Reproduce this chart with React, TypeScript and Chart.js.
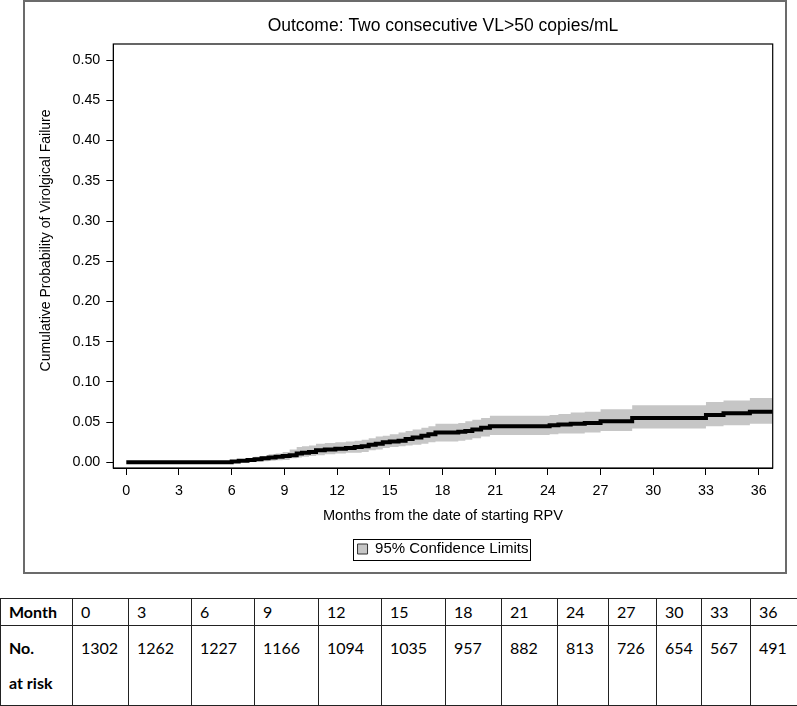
import React, { useEffect, useRef } from 'react';
import { Chart, registerables } from 'chart.js';

Chart.register(...registerables);

// ---- Data ----
const monthTimes = [0, 6.0, 6.4, 6.9, 7.3, 7.7, 8.1, 8.5, 8.9, 9.3, 9.7, 10.0, 10.4, 10.8, 11.3, 11.9, 12.5, 13.0, 13.4, 13.8, 14.2, 14.6, 15.0, 15.5, 15.9, 16.3, 16.8, 17.2, 17.6, 18.9, 19.3, 19.7, 20.2, 20.7, 24.1, 24.6, 25.3, 26.1, 27.0, 28.8, 33.0, 34.0, 35.5, 36.8];
const failureProb = [0, 0.001, 0.002, 0.003, 0.004, 0.005, 0.006, 0.007, 0.008, 0.009, 0.011, 0.012, 0.013, 0.015, 0.016, 0.017, 0.018, 0.019, 0.020, 0.022, 0.023, 0.025, 0.026, 0.027, 0.029, 0.031, 0.033, 0.035, 0.037, 0.038, 0.039, 0.041, 0.043, 0.045, 0.046, 0.047, 0.048, 0.049, 0.051, 0.055, 0.059, 0.061, 0.063, 0.063];
const lowerCI = [0, 0, 0.0003, 0.0007, 0.001, 0.0015, 0.002, 0.0025, 0.003, 0.005, 0.006, 0.007, 0.008, 0.009, 0.010, 0.011, 0.012, 0.012, 0.013, 0.015, 0.016, 0.018, 0.019, 0.020, 0.021, 0.022, 0.023, 0.025, 0.026, 0.027, 0.028, 0.030, 0.032, 0.034, 0.035, 0.036, 0.036, 0.037, 0.039, 0.042, 0.045, 0.046, 0.048, 0.048];
const upperCI = [0, 0.003, 0.004, 0.005, 0.007, 0.008, 0.010, 0.011, 0.013, 0.016, 0.019, 0.020, 0.021, 0.023, 0.024, 0.025, 0.026, 0.027, 0.028, 0.030, 0.032, 0.033, 0.035, 0.037, 0.039, 0.041, 0.043, 0.045, 0.048, 0.049, 0.051, 0.053, 0.055, 0.058, 0.059, 0.060, 0.062, 0.063, 0.066, 0.071, 0.075, 0.077, 0.080, 0.080];

const xTickValues = [0, 3, 6, 9, 12, 15, 18, 21, 24, 27, 30, 33, 36];
const yTickValues = [0, 0.05, 0.1, 0.15, 0.2, 0.25, 0.3, 0.35, 0.4, 0.45, 0.5];

const tableMonths = ['0', '3', '6', '9', '12', '15', '18', '21', '24', '27', '30', '33', '36'];
const atRisk = ['1302', '1262', '1227', '1166', '1094', '1035', '957', '882', '813', '726', '654', '567', '491'];

const titleText = 'Outcome: Two consecutive VL>50 copies/mL';
const xTitle = 'Months from the date of starting RPV';
const yTitle = 'Cumulative Probability of Virolgical Failure';
const legendText = '95% Confidence Limits';

// ---- Layout ----
const colWidths = [72, 56, 63, 63, 64, 63, 64, 56, 56, 51, 48, 45, 49, 47];
const FONT = '"Liberation Sans", Arial, sans-serif';
const BAND = '#c6c6c6';

export default function App() {
  const ref = useRef<HTMLCanvasElement>(null);

  useEffect(() => {
    const canvas = ref.current;
    if (!canvas) return;
    const pts = (arr: number[]) => monthTimes.map((t, i) => ({ x: t, y: arr[i] }));

    const frame = {
      id: 'frame',
      afterDatasetsDraw(chart: any) {
        const { ctx, chartArea: a } = chart;
        ctx.save();
        ctx.strokeStyle = '#000';
        ctx.lineWidth = 1.2;
        ctx.strokeRect(a.left, a.top, a.right - a.left, a.bottom - a.top);
        ctx.restore();
      },
    };
    const yTitlePlugin = {
      id: 'yTitlePlugin',
      afterDraw(chart: any) {
        const { ctx, chartArea: a } = chart;
        ctx.save();
        ctx.translate(21, (a.top + a.bottom) / 2 - 15.5);
        ctx.rotate(-Math.PI / 2);
        ctx.fillStyle = '#000';
        ctx.font = `14px ${FONT}`;
        ctx.textAlign = 'center';
        ctx.textBaseline = 'middle';
        ctx.fillText(yTitle, 0, 0);
        ctx.restore();
      },
    };
    const legendFrame = {
      id: 'legendFrame',
      afterDraw(chart: any) {
        const lg = chart.legend;
        const hb = lg && lg.legendHitBoxes && lg.legendHitBoxes[0];
        if (!hb) return;
        const { ctx } = chart;
        const cy = hb.top + hb.height / 2;
        ctx.save();
        ctx.strokeStyle = '#000';
        ctx.lineWidth = 1;
        ctx.strokeRect(Math.round(hb.left - 5) + 0.5, Math.round(cy - 10.5) + 0.5, Math.round(hb.width + 6), 21);
        ctx.restore();
      },
    };

    const chart = new Chart(canvas, {
      type: 'line',
      data: {
        datasets: [
          {
            label: 'Cumulative probability',
            data: pts(failureProb),
            borderColor: '#000',
            borderWidth: 4,
            stepped: true,
            pointRadius: 0,
            fill: false,
          },
          {
            label: legendText,
            data: pts(upperCI),
            borderColor: 'rgba(0,0,0,0)',
            borderWidth: 0,
            backgroundColor: BAND,
            stepped: true,
            pointRadius: 0,
            fill: '+1',
          },
          {
            label: 'lower',
            data: pts(lowerCI),
            borderColor: 'rgba(0,0,0,0)',
            borderWidth: 0,
            stepped: true,
            pointRadius: 0,
            fill: false,
          },
        ],
      } as any,
      options: {
        animation: false,
        responsive: false,
        layout: { padding: { left: 0, right: 12.3, top: 0, bottom: 5.5 } },
        plugins: {
          title: {
            display: true,
            fullSize: false,
            text: titleText,
            color: '#000',
            font: { family: FONT, size: 17.5, weight: 'normal', lineHeight: 1.2 },
            padding: { top: 13.5, bottom: 7.5 },
          },
          legend: {
            display: true,
            position: 'bottom',
            fullSize: false,
            onClick: () => {},
            labels: {
              color: '#000',
              font: { family: FONT, size: 15 },
              boxWidth: 10,
              boxHeight: 10,
              padding: 10,
              generateLabels: () => [
                {
                  text: legendText,
                  fillStyle: BAND,
                  strokeStyle: '#333',
                  lineWidth: 1,
                  hidden: false,
                  datasetIndex: 1,
                } as any,
              ],
            },
          },
          tooltip: { enabled: false },
        },
        scales: {
          x: {
            type: 'linear',
            min: -0.74,
            max: 36.8,
            afterBuildTicks: (s: any) => {
              s.ticks = xTickValues.map((v) => ({ value: v }));
            },
            afterFit: (s: any) => {
              s.height = 63.5;
            },
            ticks: {
              color: '#000',
              font: { family: FONT, size: 14.3 },
              padding: 7,
              maxRotation: 0,
              autoSkip: false,
              callback: (v: any) => String(v),
            },
            grid: { drawOnChartArea: false, drawTicks: true, tickLength: 7, color: '#000', lineWidth: 1 },
            border: { display: true, color: '#000', width: 1 },
            title: {
              display: true,
              text: xTitle,
              color: '#000',
              font: { family: FONT, size: 14.6 },
              padding: { top: 0, bottom: 7.1 },
            },
          },
          y: {
            type: 'linear',
            min: -0.007,
            max: 0.52,
            afterBuildTicks: (s: any) => {
              s.ticks = yTickValues.map((v) => ({ value: v }));
            },
            afterFit: (s: any) => {
              s.width = 88.3;
            },
            ticks: {
              color: '#000',
              font: { family: FONT, size: 14.3 },
              padding: 6,
              autoSkip: false,
              callback: (v: any) => Number(v).toFixed(2),
            },
            grid: { drawOnChartArea: false, drawTicks: true, tickLength: 7, color: '#000', lineWidth: 1 },
            border: { display: true, color: '#000', width: 1 },
            title: { display: false, text: yTitle },
          },
        },
      } as any,
      plugins: [frame, legendFrame, yTitlePlugin],
    });
    return () => chart.destroy();
  }, []);

  const cellBase: React.CSSProperties = {
    border: '1px solid #222',
    padding: '0 0 0 8px',
    verticalAlign: 'top',
    overflow: 'hidden',
    whiteSpace: 'nowrap',
  };
  const row1: React.CSSProperties = { ...cellBase, lineHeight: '25px' };
  const row2: React.CSSProperties = { ...cellBase, lineHeight: '35px', paddingTop: 4 };

  return (
    <div style={{ position: 'absolute', left: 0, top: 0, width: 797, height: 706, background: '#fff' }}>
      <div
        style={{
          position: 'absolute',
          left: 23,
          top: 0,
          width: 764,
          height: 574,
          border: '2px solid #6b6b6b',
          boxSizing: 'border-box',
        }}
      >
        <canvas ref={ref} width={760} height={570} style={{ display: 'block', width: 760, height: 570 }} />
      </div>
      <table
        style={{
          position: 'absolute',
          left: 0,
          top: 598,
          width: 797,
          borderCollapse: 'collapse',
          tableLayout: 'fixed',
          fontFamily: 'Lato, "Open Sans", sans-serif',
          fontSize: 16,
          color: '#000',
        }}
      >
        <colgroup>
          {colWidths.map((w, i) => (
            <col key={i} style={{ width: w }} />
          ))}
        </colgroup>
        <tbody>
          <tr style={{ height: 27 }}>
            <td style={{ ...row1, fontWeight: 'bold' }}>Month</td>
            {tableMonths.map((m, i) => (
              <td key={i} style={row1}>
                {m}
              </td>
            ))}
          </tr>
          <tr style={{ height: 80 }}>
            <td style={{ ...row2, fontWeight: 'bold' }}>
              No.
              <br />
              at risk
            </td>
            {atRisk.map((n, i) => (
              <td key={i} style={row2}>
                {n}
              </td>
            ))}
          </tr>
        </tbody>
      </table>
    </div>
  );
}
